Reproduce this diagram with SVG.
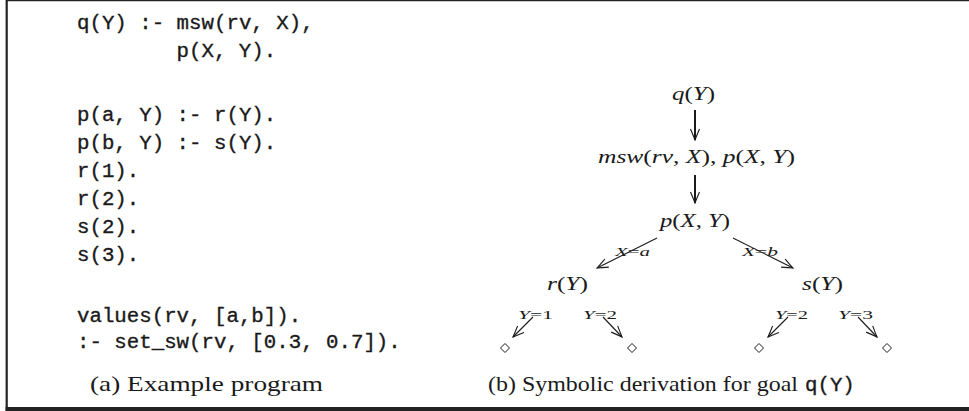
<svg xmlns="http://www.w3.org/2000/svg" width="969" height="411" viewBox="0 0 969 411">
  <style>
    .code { font-family: "Liberation Mono", "DejaVu Sans Mono", monospace; font-size: 20.75px; fill: #1a1a1a; stroke: #1a1a1a; stroke-width: 0.35px; }
    .cap { font-family: "Liberation Serif", "DejaVu Serif", serif; font-size: 22px; fill: #1a1a1a; }
    .math { font-family: "Liberation Serif", "DejaVu Serif", serif; font-size: 18px; fill: #1a1a1a; }
    .lbl { font-family: "Liberation Serif", "DejaVu Serif", serif; font-size: 13px; fill: #1a1a1a; }
    .it { font-style: italic; }
    .edge { fill: none; stroke: #1a1a1a; stroke-width: 1.1; }
    .thick { stroke-width: 2; }
    .leaf { fill: #fff; stroke: #1a1a1a; stroke-width: 1; }
  </style>
  <defs>
    <marker id="head" markerUnits="userSpaceOnUse" viewBox="-12 -6 14 12" refX="0" refY="0" markerWidth="14" markerHeight="12" orient="auto">
      <path d="M -11 -4.5 Q -4 -1.5 0 0 Q -4 1.5 -11 4.5" fill="none" stroke="#1a1a1a" stroke-width="1.1"/>
    </marker>
  </defs>

  <rect x="0" y="0" width="969" height="411" fill="#fff"/>
  <!-- frame -->
  <line x1="6" y1="0.6" x2="969" y2="0.6" stroke="#222" stroke-width="1.3"/>
  <line x1="6.7" y1="0" x2="6.7" y2="411" stroke="#222" stroke-width="2.2"/>
  <rect x="5.6" y="407" width="963.4" height="4" fill="#222"/>

  <!-- (a) program -->
  <text class="code" x="77" y="29">q(Y) :- msw(rv, X),</text>
  <text class="code" x="176.6" y="57">p(X, Y).</text>
  <text class="code" x="77" y="121">p(a, Y) :- r(Y).</text>
  <text class="code" x="77" y="149">p(b, Y) :- s(Y).</text>
  <text class="code" x="77" y="177">r(1).</text>
  <text class="code" x="77" y="205">r(2).</text>
  <text class="code" x="77" y="233">s(2).</text>
  <text class="code" x="77" y="261">s(3).</text>
  <text class="code" x="77" y="322">values(rv, [a,b]).</text>
  <text class="code" x="77" y="348">:- set_sw(rv, [0.3, 0.7]).</text>
  <text class="cap" x="90" y="391" textLength="233" lengthAdjust="spacingAndGlyphs">(a) Example program</text>

  <!-- (b) derivation -->
  <g id="connectors">
    <line class="edge thick" x1="695" y1="110" x2="695" y2="140" marker-end="url(#head)"/>
    <line class="edge thick" x1="695" y1="175" x2="695" y2="203" marker-end="url(#head)"/>
    <line class="edge" x1="657" y1="238" x2="597" y2="268" marker-end="url(#head)"/>
    <line class="edge" x1="733" y1="238" x2="793" y2="268" marker-end="url(#head)"/>
    <line class="edge" x1="533" y1="317" x2="513" y2="337" marker-end="url(#head)"/>
    <line class="edge" x1="603" y1="317" x2="622" y2="337" marker-end="url(#head)"/>
    <line class="edge" x1="788" y1="317" x2="768" y2="337" marker-end="url(#head)"/>
    <line class="edge" x1="858" y1="317" x2="877" y2="337" marker-end="url(#head)"/>
    <text class="lbl" x="615" y="256" textLength="35" lengthAdjust="spacingAndGlyphs"><tspan class="it">X</tspan>=<tspan class="it">a</tspan></text>
    <text class="lbl" x="742" y="256" textLength="36" lengthAdjust="spacingAndGlyphs"><tspan class="it">X</tspan>=<tspan class="it">b</tspan></text>
    <text class="lbl" x="518" y="319" textLength="35" lengthAdjust="spacingAndGlyphs"><tspan class="it">Y</tspan>=1</text>
    <text class="lbl" x="583" y="319" textLength="34" lengthAdjust="spacingAndGlyphs"><tspan class="it">Y</tspan>=2</text>
    <text class="lbl" x="775" y="319" textLength="33" lengthAdjust="spacingAndGlyphs"><tspan class="it">Y</tspan>=2</text>
    <text class="lbl" x="838" y="319" textLength="35" lengthAdjust="spacingAndGlyphs"><tspan class="it">Y</tspan>=3</text>
  </g>

  <g id="n-qY">
    <text class="math" x="672" y="100" textLength="43" lengthAdjust="spacingAndGlyphs"><tspan class="it">q</tspan>(<tspan class="it">Y</tspan>)</text>
  </g>
  <g id="n-msw">
    <text class="math" x="598" y="163" textLength="197" lengthAdjust="spacingAndGlyphs"><tspan class="it">msw</tspan>(<tspan class="it">rv</tspan>, <tspan class="it">X</tspan>), <tspan class="it">p</tspan>(<tspan class="it">X</tspan>, <tspan class="it">Y</tspan>)</text>
  </g>
  <g id="n-pXY">
    <text class="math" x="660" y="227" textLength="70" lengthAdjust="spacingAndGlyphs"><tspan class="it">p</tspan>(<tspan class="it">X</tspan>, <tspan class="it">Y</tspan>)</text>
  </g>
  <g id="n-rY">
    <text class="math" x="547" y="290" textLength="41" lengthAdjust="spacingAndGlyphs"><tspan class="it">r</tspan>(<tspan class="it">Y</tspan>)</text>
  </g>
  <g id="n-sY">
    <text class="math" x="802" y="290" textLength="41" lengthAdjust="spacingAndGlyphs"><tspan class="it">s</tspan>(<tspan class="it">Y</tspan>)</text>
  </g>
  <g id="n-leaf1"><path class="leaf" d="M505 343.5 L509.5 348 L505 352.5 L500.5 348 Z"/></g>
  <g id="n-leaf2"><path class="leaf" d="M632 343.5 L636.5 348 L632 352.5 L627.5 348 Z"/></g>
  <g id="n-leaf3"><path class="leaf" d="M759 343.5 L763.5 348 L759 352.5 L754.5 348 Z"/></g>
  <g id="n-leaf4"><path class="leaf" d="M887 343.5 L891.5 348 L887 352.5 L882.5 348 Z"/></g>

  <text class="cap" x="488" y="391"><tspan textLength="310" lengthAdjust="spacingAndGlyphs">(b) Symbolic derivation for goal</tspan><tspan class="code" x="805" y="391">q(Y)</tspan></text>
</svg>
